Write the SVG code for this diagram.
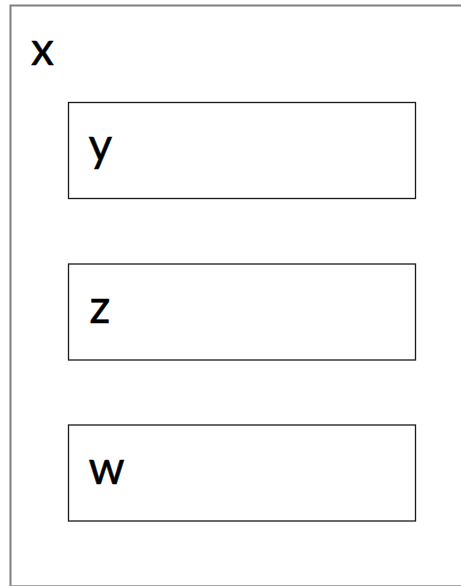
<svg xmlns="http://www.w3.org/2000/svg" width="461" height="586" viewBox="0 0 461 586">
<style>
.outer{fill:#fff;stroke:#808080;stroke-width:2}
.box{fill:#fff;stroke:#1a1a1a;stroke-width:1.3}
.lbl{font-family:Lato,"Open Sans",sans-serif;font-size:46px;fill:#000;stroke:#000;stroke-width:0.5}
</style>
<rect width="461" height="586" fill="#fff"/>
<g id="x">
<rect class="outer" x="10.5" y="5.5" width="470" height="580.8"/>
<text class="lbl" x="31" y="64.5">x</text>
</g>
<g id="y">
<rect class="box" x="68.5" y="102.5" width="347" height="96"/>
<text class="lbl" x="88.5" y="161">y</text>
</g>
<g id="z">
<rect class="box" x="68.5" y="264" width="347" height="96"/>
<text class="lbl" x="89.5" y="323">z</text>
</g>
<g id="w">
<rect class="box" x="68.5" y="425" width="347" height="96"/>
<text class="lbl" x="88.5" y="483.5">w</text>
</g>
<g id="connectors"></g>
</svg>
